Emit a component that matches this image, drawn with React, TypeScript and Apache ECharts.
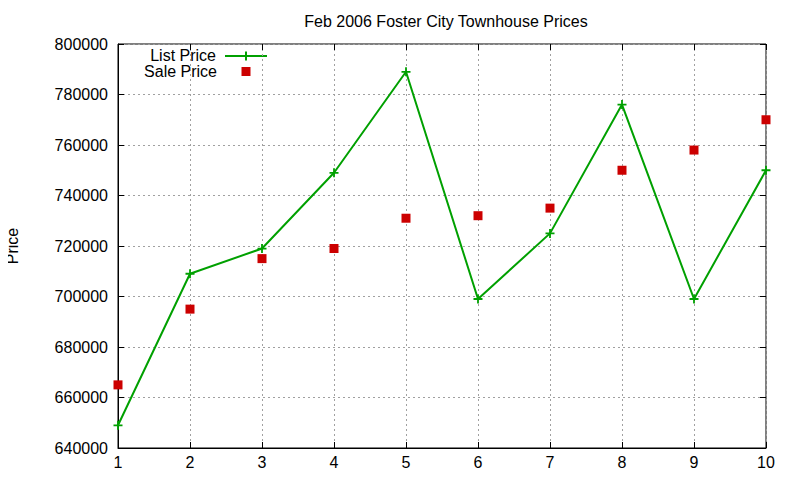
import React, { useEffect, useRef } from 'react';
import * as echarts from 'echarts';

const months = ['1', '2', '3', '4', '5', '6', '7', '8', '9', '10'];
const listPrice = [649000, 709000, 719000, 749000, 789000, 699000, 725000, 776000, 699000, 750000];
const salePrice = [665000, 695000, 715000, 719000, 731000, 732000, 735000, 750000, 758000, 770000];
const legendNames = ['List Price', 'Sale Price'];

const FONT = '"Liberation Sans", Arial, sans-serif';
const PLUS = 'path://M4,0L6,0L6,4L10,4L10,6L6,6L6,10L4,10L4,6L0,6L0,4L4,4Z';

const App: React.FC = () => {
  const chartRef = useRef<HTMLDivElement>(null);

  useEffect(() => {
    if (!chartRef.current) return;
    const chart = echarts.init(chartRef.current, undefined, { renderer: 'svg' });

    const gridLine = { show: true, lineStyle: { color: '#a0a0a0', type: [2, 3] as number[], width: 1 } };
    const tick = { show: true, inside: true, length: 6, lineStyle: { color: '#000' } };

    chart.setOption({
      animation: false,
      backgroundColor: '#fff',
      textStyle: { fontFamily: FONT },
      title: {
        text: 'Feb 2006 Foster City Townhouse Prices',
        left: 441,
        top: 8,
        textAlign: 'center',
        textStyle: { fontSize: 16, fontWeight: 'normal', color: '#000', fontFamily: FONT },
      },
      grid: {
        left: 118,
        right: 34,
        top: 44,
        bottom: 32,
        outerBoundsMode: 'none',
        containLabel: false,
        show: true,
        borderColor: '#000',
        borderWidth: 1,
        backgroundColor: 'transparent',
      },
      xAxis: [
        {
          type: 'category',
          data: months,
          boundaryGap: false,
          axisLine: { show: true, lineStyle: { color: '#000' } },
          axisTick: { ...tick, alignWithLabel: true },
          axisLabel: { color: '#000', fontSize: 16, margin: 6, fontFamily: FONT },
          splitLine: gridLine,
        },
        {
          type: 'category',
          data: months,
          position: 'top',
          boundaryGap: false,
          axisLine: { show: false },
          axisTick: tick,
          axisLabel: { show: false },
          splitLine: { show: false },
        },
      ],
      yAxis: [
        {
          type: 'value',
          min: 640000,
          max: 800000,
          interval: 20000,
          name: 'Price',
          nameLocation: 'middle',
          nameGap: 98,
          nameRotate: 90,
          nameTextStyle: { color: '#000', fontSize: 16, fontFamily: FONT },
          axisLine: { show: true, lineStyle: { color: '#000' } },
          axisTick: tick,
          axisLabel: {
            color: '#000',
            fontSize: 16,
            margin: 10,
            fontFamily: FONT,
            formatter: (v: number) => String(v),
          },
          splitLine: gridLine,
        },
        {
          type: 'value',
          min: 640000,
          max: 800000,
          interval: 20000,
          position: 'right',
          axisLine: { show: false },
          axisTick: tick,
          axisLabel: { show: false },
          splitLine: { show: false },
        },
      ],
      series: [
        {
          name: 'List Price',
          type: 'line',
          data: listPrice,
          symbol: PLUS,
          symbolSize: 9,
          showAllSymbol: true,
          lineStyle: { color: '#00a000', width: 2 },
          itemStyle: { color: '#00a000' },
        },
        {
          name: 'Sale Price',
          type: 'scatter',
          data: salePrice,
          symbol: 'rect',
          symbolSize: 9,
          itemStyle: { color: '#cc0000', opacity: 1 },
        },
      ],
      graphic: [
        {
          type: 'text',
          x: 216,
          y: 55.5,
          style: {
            text: legendNames[0],
            font: `16px ${FONT}`,
            fill: '#000',
            align: 'right',
            verticalAlign: 'middle',
            lineHeight: 16,
          },
        },
        {
          type: 'text',
          x: 217,
          y: 71.5,
          style: {
            text: legendNames[1],
            font: `16px ${FONT}`,
            fill: '#000',
            align: 'right',
            verticalAlign: 'middle',
            lineHeight: 16,
          },
        },
        {
          type: 'line',
          shape: { x1: 225, y1: 56, x2: 267, y2: 56 },
          style: { stroke: '#00a000', lineWidth: 2 },
        },
        {
          type: 'polygon',
          shape: {
            points: [
              [245, 51.5], [247, 51.5], [247, 55], [250.5, 55], [250.5, 57], [247, 57],
              [247, 60.5], [245, 60.5], [245, 57], [241.5, 57], [241.5, 55], [245, 55],
            ],
          },
          style: { fill: '#00a000' },
        },
        {
          type: 'rect',
          shape: { x: 241.5, y: 67, width: 9, height: 9 },
          style: { fill: '#cc0000' },
        },
      ],
    });

    return () => {
      chart.dispose();
    };
  }, []);

  return <div ref={chartRef} style={{ width: '800px', height: '480px', margin: -8 }} />;
};

export default App;
